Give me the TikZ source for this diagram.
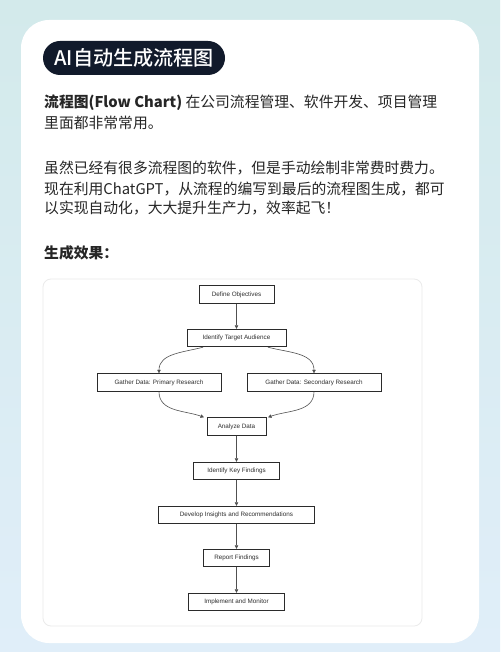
\documentclass[tikz,border=0pt]{standalone}
\usepackage{fontspec}
\setmainfont{Noto Sans CJK SC}
\newfontfamily\medfont{Noto Sans CJK SC Medium}
\newfontfamily\arialfont{Liberation Sans}
\usetikzlibrary{arrows.meta}
\definecolor{bgtop}{HTML}{D3EAEB}
\definecolor{bgbot}{HTML}{E0EEF9}
\definecolor{pill}{HTML}{111A2B}
\definecolor{bodytxt}{HTML}{262626}
\definecolor{cardline}{HTML}{EBEBEB}
\definecolor{fcline}{HTML}{2B2B2B}
\definecolor{fctext}{HTML}{2E2E2E}
\definecolor{arrowc}{HTML}{505050}
\tikzset{
  bodyline/.style={anchor=base west, inner sep=0, text=bodytxt, font=\fontsize{14.8}{18}\selectfont},
  fcbox/.style={draw=fcline, line width=0.9pt, fill=white, inner sep=0, minimum height=17.5,
    font=\arialfont\fontsize{6.3}{7}\selectfont, text=fctext},
  arr/.style={draw=arrowc, line width=0.6pt, -{Triangle[length=3.5pt,width=3.5pt]}}
}
\begin{document}
\begin{tikzpicture}[x=1pt,y=1pt]
\useasboundingbox (0,0) rectangle (500,-652);
\shade[top color=bgtop,bottom color=bgbot] (0,0) rectangle (500,-652);
\fill[white, rounded corners=28] (21,-20) rectangle (479,-643);
\node[fill=pill, rounded corners=17, minimum width=182, minimum height=34, inner sep=0,
  text=white, font=\medfont\fontsize{20.1}{24}\selectfont] (title) at (134,-58) {AI自动生成流程图};

\node[bodyline] (l1) at (44,-107.4) {{\bfseries 流程图(Flow Chart)} 在公司流程管理、软件开发、项目管理};
\node[bodyline] (l2) at (44,-129.0) {里面都非常常用。};
\node[bodyline] (l3) at (44,-174.0) {虽然已经有很多流程图的软件，但是手动绘制非常费时费力。};
\node[bodyline] (l4) at (44,-194.0) {现在利用ChatGPT，从流程的编写到最后的流程图生成，都可};
\node[bodyline] (l5) at (44,-214.0) {以实现自动化，大大提升生产力，效率起飞！};
\node[bodyline, font=\bfseries\fontsize{14.8}{18}\selectfont] (l6) at (44,-258.7) {生成效果：};

\draw[cardline, line width=0.8pt, rounded corners=8] (43,-279) rectangle (422,-626);

\node[fcbox, minimum width=75] (do) at (236.5,-294.5) {Define Objectives};
\node[fcbox, minimum width=99] (ita) at (236.5,-338) {Identify Target Audience};
\node[fcbox, minimum width=124] (pr) at (159,-382.5) {Gather Data: Primary Research};
\node[fcbox, minimum width=134] (sr) at (314,-382.5) {Gather Data: Secondary Research};
\node[fcbox, minimum width=59] (ad) at (236.5,-426.5) {Analyze Data};
\node[fcbox, minimum width=86] (ikf) at (236.5,-471) {Identify Key Findings};
\node[fcbox, minimum width=156] (dir) at (236.5,-515) {Develop Insights and Recommendations};
\node[fcbox, minimum width=66] (rf) at (236.5,-558) {Report Findings};
\node[fcbox, minimum width=96] (im) at (236.5,-602) {Implement and Monitor};

\draw[arr] (do) -- (ita);
\draw[arr] ([xshift=-33.5pt]ita.south) to[out=195,in=90] (pr.north);
\draw[arr] ([xshift=31.5pt]ita.south) to[out=-15,in=90] (sr.north);
\draw[arr] (pr.south) to[out=-90,in=160] ([xshift=-32.5pt]ad.north);
\draw[arr] (sr.south) to[out=-90,in=20] ([xshift=31.5pt]ad.north);
\draw[arr] (ad) -- (ikf);
\draw[arr] (ikf) -- (dir);
\draw[arr] (dir) -- (rf);
\draw[arr] (rf) -- (im);
\end{tikzpicture}
\end{document}
